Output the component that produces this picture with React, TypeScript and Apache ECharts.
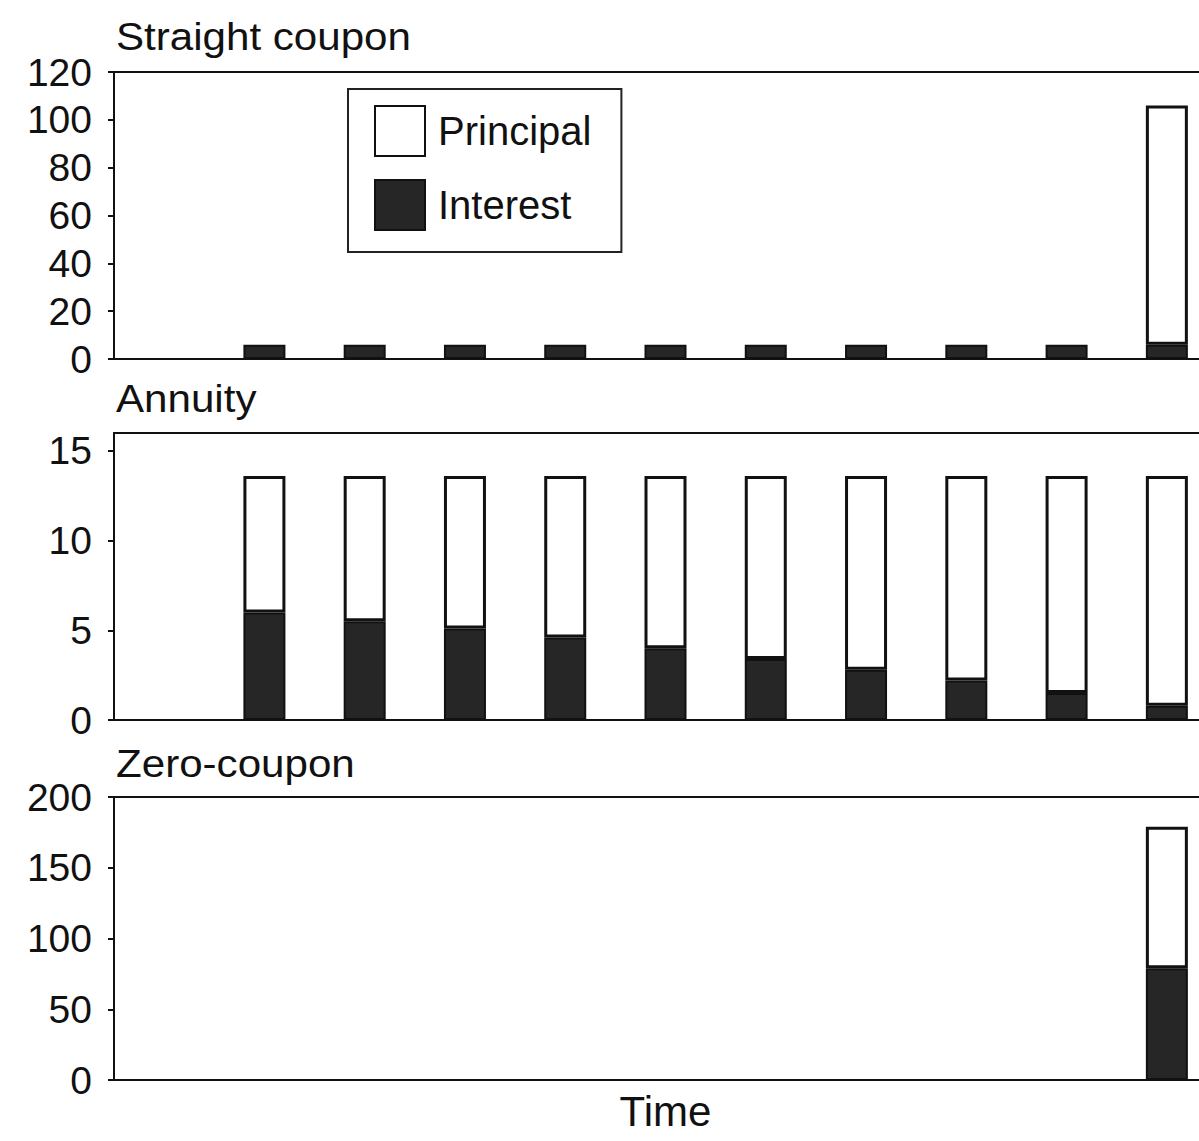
import React, { useEffect, useRef } from "react";
import * as echarts from "echarts";

const times = ["0", "1", "2", "3", "4", "5", "6", "7", "8", "9", "10"];

const straightInterest = [null, 6, 6, 6, 6, 6, 6, 6, 6, 6, 6];
const straightPrincipal = [null, null, null, null, null, null, null, null, null, null, 100];

const annuityInterest = [null, 6.0, 5.5, 5.1, 4.6, 4.0, 3.4, 2.8, 2.2, 1.5, 0.8];
const annuityPrincipal = [null, 7.6, 8.1, 8.5, 9.0, 9.6, 10.2, 10.8, 11.4, 12.1, 12.8];

const zeroInterest = [null, null, null, null, null, null, null, null, null, null, 79];
const zeroPrincipal = [null, null, null, null, null, null, null, null, null, null, 100];

const panelTitles = ["Straight coupon", "Annuity", "Zero-coupon"];
const straightTicks = [0, 20, 40, 60, 80, 100, 120];
const annuityTicks = [0, 5, 10, 15];
const zeroTicks = [0, 50, 100, 150, 200];

const FONT = "'Liberation Sans', Arial, Helvetica, sans-serif";

export default function App() {
  const ref = useRef<HTMLDivElement>(null);

  useEffect(() => {
    if (!ref.current) return;
    const chart = echarts.init(ref.current, undefined, { renderer: "svg" });

    const grids = [
      { left: 114, top: 72, width: 1103, height: 287 },
      { left: 114, top: 433, width: 1103, height: 287 },
      { left: 114, top: 797, width: 1103, height: 283 },
    ];
    const titleTops = [17, 379, 744];
    const yDefs = [
      { max: 120, ticks: straightTicks },
      { max: 16, ticks: annuityTicks },
      { max: 200, ticks: zeroTicks },
    ];
    const data = [
      [straightPrincipal, straightInterest],
      [annuityPrincipal, annuityInterest],
      [zeroPrincipal, zeroInterest],
    ];

    const principalStyle = { color: "#ffffff", borderColor: "#111111", borderWidth: 3 };
    const interestStyle = { color: "#262626", borderColor: "#111111", borderWidth: 2 };

    const series: any[] = [];
    data.forEach((pair, i) => {
      series.push({
        name: "Interest",
        type: "bar",
        xAxisIndex: i,
        yAxisIndex: i,
        stack: "s" + i,
        barWidth: 42,
        data: pair[1],
        itemStyle: interestStyle,
      });
      series.push({
        name: "Principal",
        type: "bar",
        xAxisIndex: i,
        yAxisIndex: i,
        stack: "s" + i,
        barWidth: 42,
        data: pair[0],
        itemStyle: principalStyle,
      });
    });

    chart.setOption({
      animation: false,
      backgroundColor: "#ffffff",
      textStyle: { fontFamily: FONT },
      graphic: panelTitles.map((t, i) => ({
        type: "text",
        left: 116,
        top: titleTops[i],
        scaleX: 1.08,
        style: {
          text: t,
          font: `39px ${FONT}`,
          fill: "#111",
        },
      })),
      legend: {
        left: 348,
        top: 89,
        orient: "vertical",
        data: ["Principal", "Interest"],
        icon: "rect",
        itemWidth: 50,
        itemHeight: 50,
        itemGap: 22,
        padding: [16, 30, 21, 26],
        borderColor: "#222",
        borderWidth: 2,
        backgroundColor: "#ffffff",
        selectedMode: false,
        textStyle: { fontFamily: FONT, fontSize: 40, color: "#111", padding: [0, 0, 0, 8] },
      },
      grid: grids.map((g) => ({
        ...g,
        show: true,
        borderColor: "#111",
        borderWidth: 2,
        backgroundColor: "transparent",
      })),
      xAxis: grids.map((_, i) => ({
        type: "category",
        gridIndex: i,
        data: times,
        boundaryGap: true,
        axisLabel: { show: false },
        axisTick: { show: false },
        axisLine: { show: true, lineStyle: { color: "#111", width: 2 } },
        ...(i === 2
          ? {
              name: "Time",
              nameLocation: "middle",
              nameGap: 10,
              nameTextStyle: {
                fontFamily: FONT,
                fontSize: 42,
                color: "#111",
                verticalAlign: "top",
              },
            }
          : {}),
      })),
      yAxis: yDefs.map((y, i) => ({
        type: "value",
        gridIndex: i,
        min: 0,
        max: y.max,
        splitLine: { show: false },
        axisLine: { show: true, lineStyle: { color: "#111", width: 2 } },
        axisTick: {
          show: true,
          length: 6,
          lineStyle: { color: "#111", width: 2 },
          customValues: y.ticks,
        },
        axisLabel: {
          fontFamily: FONT,
          fontSize: 39,
          color: "#111",
          margin: 22,
          customValues: y.ticks,
        },
      })),
      series,
    });

    return () => chart.dispose();
  }, []);

  return (
    <div
      style={{
        position: "fixed",
        left: 0,
        top: 0,
        width: 1199,
        height: 1141,
        overflow: "hidden",
        background: "#fff",
      }}
    >
      <div ref={ref} style={{ width: 1240, height: 1141 }} />
    </div>
  );
}
